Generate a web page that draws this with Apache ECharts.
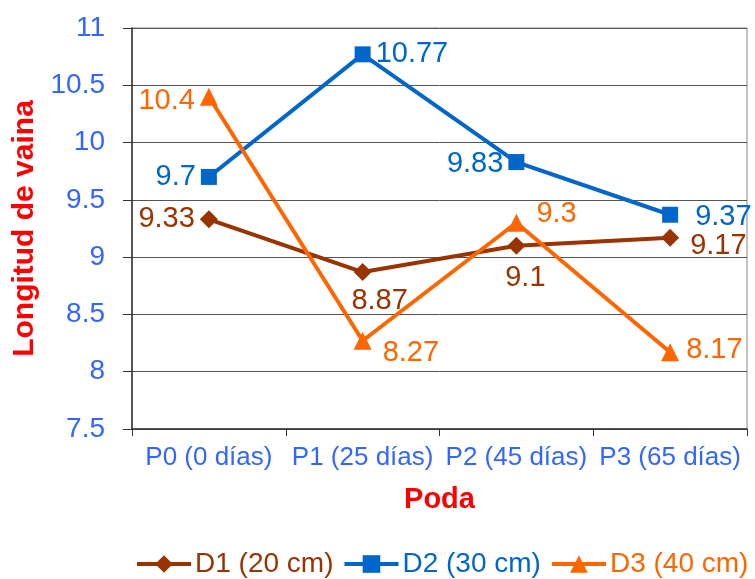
<!DOCTYPE html>
<html><head><meta charset="utf-8">
<script src="https://cdn.jsdelivr.net/npm/echarts@6/dist/echarts.min.js"></script>
<style>html,body{margin:0;padding:0;background:#fff}#c{width:755px;height:579px}</style>
</head><body><div id="c"></div>
<script>
const categories = ['P0 (0 días)', 'P1 (25 días)', 'P2 (45 días)', 'P3 (65 días)'];
const seriesNames = ['D1 (20 cm)', 'D2 (30 cm)', 'D3 (40 cm)'];
const d1 = [9.33, 8.87, 9.1, 9.17];
const d2 = [9.7, 10.77, 9.83, 9.37];
const d3 = [10.4, 8.27, 9.3, 8.17];
const yMin = 7.5, yMax = 11, yStep = 0.5;

const FONT = '"Liberation Sans", Arial, sans-serif';
const colors = ['#993300', '#0066CC', '#FF6600'];
const symbols = ['diamond', 'rect', 'triangle'];
const symbolSizes = [18, 16, 18];
// label placement per point (style only)
const labelCfg = [
  [['left', [0, 0]], ['bottom', [17, 0]], ['bottom', [9, 4]], ['right', [6, 8]]],
  [['left', [0, 0]], ['right', [0, 0]], ['left', [0, 2]], ['right', [12, 2]]],
  [['left', [0, 4]], ['right', [6, 12]], ['right', [6, -9]], ['right', [2, -2]]]
];

function mk(vals, i) {
  return {
    name: seriesNames[i], type: 'line',
    data: vals.map((v, j) => ({
      value: v,
      label: { position: labelCfg[i][j][0], offset: labelCfg[i][j][1] }
    })),
    symbol: symbols[i], symbolSize: symbolSizes[i],
    lineStyle: { color: colors[i], width: 4 },
    itemStyle: { color: colors[i] },
    label: { show: true, color: colors[i], fontSize: 29, fontFamily: FONT, distance: 5,
      formatter: p => String(p.value) },
    z: 3 + i
  };
}

const chart = echarts.init(document.getElementById('c'), null, { renderer: 'canvas' });
chart.setOption({
  animation: false,
  textStyle: { fontFamily: FONT },
  grid: { left: 132, right: 8, top: 28, bottom: 150, show: true, borderColor: '#888', borderWidth: 1 },
  legend: {
    data: seriesNames, left: 135, top: 550, padding: 0, width: 620,
    itemWidth: 54, itemHeight: 22, itemGap: 9,
    lineStyle: { width: 4 },
    textStyle: { fontSize: 28, fontFamily: FONT, color: 'inherit', padding: [0, 0, 0, -1] }
  },
  xAxis: {
    type: 'category', data: categories, boundaryGap: true,
    name: 'Poda', nameLocation: 'middle', nameGap: 56,
    nameTextStyle: { color: '#FF0000', fontSize: 29, fontWeight: 'bold', fontFamily: FONT },
    axisLine: { lineStyle: { color: '#333', width: 1.5 } },
    axisTick: { show: true, length: 7, lineStyle: { color: '#333' } },
    axisLabel: { color: '#3366FF', fontSize: 26, fontFamily: FONT, margin: 16, interval: 0 },
    splitLine: { show: false }
  },
  yAxis: {
    type: 'value', min: yMin, max: yMax, interval: yStep,
    name: 'Longitud de vaina', nameLocation: 'middle', nameRotate: 90, nameGap: 91,
    nameTextStyle: { color: '#FF0000', fontSize: 30, fontWeight: 'bold', fontFamily: FONT },
    axisLine: { show: true, lineStyle: { color: '#333', width: 1.5 } },
    axisTick: { show: true, length: 9, lineStyle: { color: '#333' } },
    axisLabel: { color: '#3366FF', fontSize: 28, fontFamily: FONT, margin: 27 },
    splitLine: { show: true, lineStyle: { color: '#555', width: 1 } }
  },
  series: [mk(d1, 0), mk(d2, 1), mk(d3, 2)]
});
</script></body></html>
